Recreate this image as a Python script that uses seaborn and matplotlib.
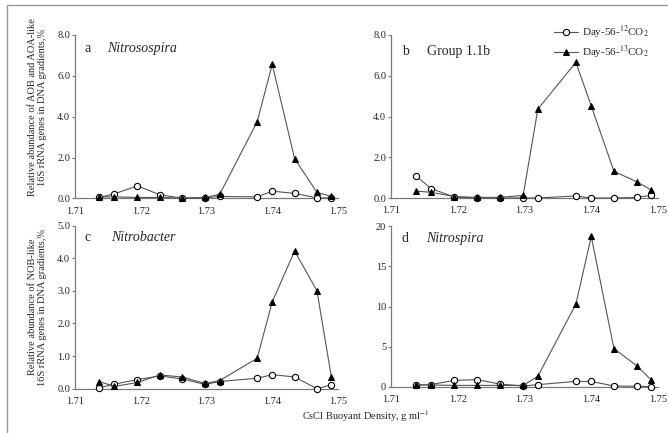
import pandas as pd
import seaborn as sns
import matplotlib.pyplot as plt
from matplotlib.lines import Line2D
from matplotlib.ticker import FormatStrFormatter

# CsCl buoyant density of each gradient fraction
density = [1.7137, 1.7160, 1.7195, 1.7229, 1.7263, 1.7298,
           1.7320, 1.7377, 1.7400, 1.7434, 1.7468, 1.7490]

# relative abundance (%) per fraction, 12CO2 control vs 13CO2 labelled
a_12 = [0.05, 0.23, 0.62, 0.18, 0.02, 0.03, 0.10, 0.08, 0.36, 0.25, 0.03, 0.03]
a_13 = [0.08, 0.08, 0.05, 0.05, 0.02, 0.06, 0.20, 3.75, 6.56, 1.95, 0.30, 0.10]
b_12 = [1.10, 0.46, 0.05, 0.00, 0.00, 0.00, 0.00, 0.10, 0.00, 0.00, 0.03, 0.13]
b_13 = [0.34, 0.28, 0.07, 0.03, 0.03, 0.13, 4.36, 6.66, 4.52, 1.31, 0.80, 0.39]
c_12 = [0.03, 0.14, 0.28, 0.39, 0.30, 0.13, 0.22, 0.32, 0.43, 0.36, 0.00, 0.12]
c_13 = [0.22, 0.07, 0.19, 0.42, 0.36, 0.16, 0.25, 0.93, 2.66, 4.22, 3.00, 0.35]
d_12 = [0.20, 0.30, 0.83, 0.91, 0.37, 0.12, 0.29, 0.70, 0.70, 0.12, 0.10, 0.04]
d_13 = [0.30, 0.25, 0.20, 0.20, 0.20, 0.20, 1.33, 10.3, 18.7, 4.77, 2.65, 0.87]

panel_letters = ["a", "b", "c", "d"]
panel_titles = ["Nitrosospira", "Group 1.1b", "Nitrobacter", "Nitrospira"]
panel_italic = [True, False, True, True]
y_max = [8.0, 8.0, 5.0, 20]
y_step = [2.0, 2.0, 1.0, 5]
y_fmt = ["%.1f", "%.1f", "%.1f", "%d"]
x_ticks = [1.71, 1.72, 1.73, 1.74, 1.75]
legend_labels = ["Day-56-$^{12}$CO$_2$", "Day-56-$^{13}$CO$_2$"]

sns.set_style("ticks")
plt.rcParams["font.family"] = ["Liberation Serif", "DejaVu Serif"]
plt.rcParams["mathtext.fontset"] = "stix"

W, H = 668, 433
fig = plt.figure(figsize=(W / 100, H / 100), dpi=100)

# axes boxes in pixels: left, right, top, bottom
boxes = [(75, 338, 35, 198.5), (391, 658, 35, 198),
         (75, 338, 225.5, 388.7), (391, 658, 226, 387)]
text_pos = [(0.038, 0.122, 0.92), (0.04, 0.134, 0.898),
            (0.038, 0.137, 0.928), (0.04, 0.13, 0.924)]
series = [(a_12, a_13), (b_12, b_13), (c_12, c_13), (d_12, d_13)]

axes = []
for i, (l, r, t, b) in enumerate(boxes):
    ax = fig.add_axes([l / W, 1 - b / H, (r - l) / W, (b - t) / H])
    s12, s13 = series[i]
    sns.lineplot(x=density, y=s12, ax=ax, marker="o", color="#555555",
                 markerfacecolor="white", markeredgecolor="black",
                 markeredgewidth=0.8, markersize=4.5, linewidth=0.8,
                 clip_on=False, label=legend_labels[0], legend=False, zorder=3)
    sns.lineplot(x=density, y=s13, ax=ax, marker="^", color="#555555",
                 markerfacecolor="black", markeredgecolor="black",
                 markersize=5, linewidth=0.8, clip_on=False,
                 label=legend_labels[1], legend=False, zorder=4)
    ax.set_xlim(1.71, 1.75)
    ax.set_ylim(0, y_max[i])
    ax.set_xticks(x_ticks)
    ax.xaxis.set_major_formatter(FormatStrFormatter("%.2f"))
    yt = [y_step[i] * k for k in range(int(round(y_max[i] / y_step[i])) + 1)]
    ax.set_yticks(yt)
    ax.yaxis.set_major_formatter(FormatStrFormatter(y_fmt[i]))
    for side in ["top", "right"]:
        ax.spines[side].set_visible(False)
    for side in ["left", "bottom"]:
        ax.spines[side].set_color("#7a7a7a")
        ax.spines[side].set_linewidth(0.9)
    ax.tick_params(axis="y", length=2.5, width=0.8, color="#7a7a7a",
                   labelsize=7.5, pad=1, labelcolor="#222222")
    ax.tick_params(axis="x", length=0, labelsize=7.5, pad=6,
                   labelcolor="#222222")
    ax.set_xlabel("")
    ax.set_ylabel("")
    lx, tx, ty = text_pos[i]
    ax.text(lx, ty, panel_letters[i], transform=ax.transAxes, fontsize=10,
            va="center", ha="left")
    ax.text(tx, ty, panel_titles[i], transform=ax.transAxes, fontsize=10,
            va="center", ha="left",
            style="italic" if panel_italic[i] else "normal")
    axes.append(ax)

handles, labels = axes[1].get_legend_handles_labels()
axes[1].legend(handles, labels, loc="upper left", frameon=False,
               bbox_to_anchor=(554 / W, 1 - 24 / H),
               bbox_transform=fig.transFigure, fontsize=8,
               handlelength=2.2, handletextpad=0.3, labelspacing=0.3,
               borderpad=0, borderaxespad=0)

fig.text(37.5 / W, 1 - 107 / H,
         "Relative abundance of AOB and AOA-like\n16S rRNA genes in DNA gradients,%",
         rotation=90, ha="center", va="center", fontsize=7.5, linespacing=1.1)
fig.text(37.5 / W, 1 - 307 / H,
         "Relative abundance of NOB-like\n16S rRNA genes in DNA gradients,%",
         rotation=90, ha="center", va="center", fontsize=7.5, linespacing=1.1)
fig.text(366 / W, 1 - 416 / H, "CsCl Buoyant Density, g ml$^{-1}$",
         ha="center", va="center", fontsize=7.5)

# grey frame of the original figure (top and left edges)
fig.add_artist(Line2D([7 / W, 1], [1 - 5 / H, 1 - 5 / H],
                      transform=fig.transFigure, color="#999999", lw=1))
fig.add_artist(Line2D([7 / W, 7 / W], [0, 1 - 5 / H],
                      transform=fig.transFigure, color="#999999", lw=1))

fig.savefig("out.png", dpi=100)
